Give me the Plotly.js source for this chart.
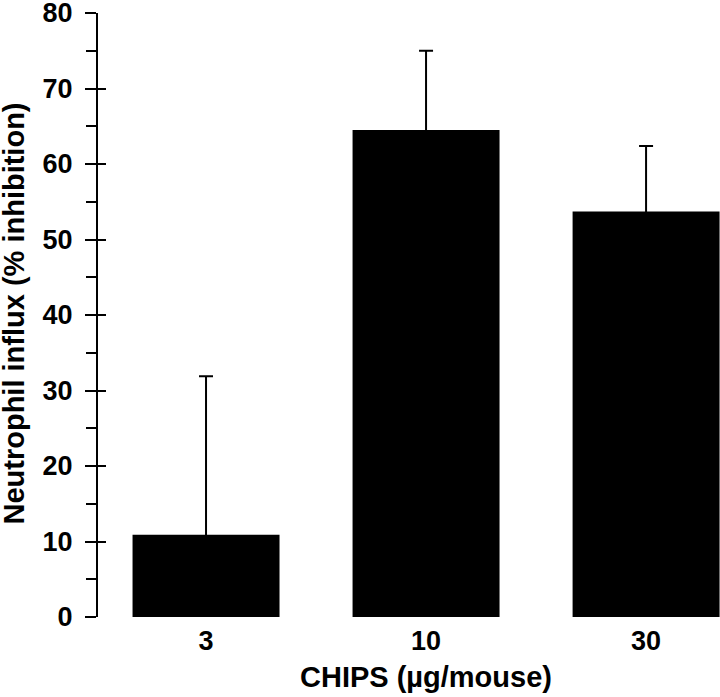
<!DOCTYPE html>
<html>
<head>
<meta charset="utf-8">
<script src="https://cdn.plot.ly/plotly-3.0.1.min.js"></script>
<style>html,body{margin:0;padding:0;background:#fff;}#chart{width:720px;height:697px;}</style>
</head>
<body>
<div id="chart"></div>
<script>
const categories = ["3", "10", "30"];
const inhibition = [10.9, 64.5, 53.7];
const errorUp = [21.0, 10.5, 8.7];
const yTickVals = [0, 10, 20, 30, 40, 50, 60, 70, 80];
const xTitle = "CHIPS (µg/mouse)";
const yTitle = "Neutrophil influx (% inhibition)";

const family = "'Liberation Sans', Arial, sans-serif";
const tickFont = {family: family, size: 27, color: "#000", weight: 700};
const titleFont = {family: family, size: 29, color: "#000", weight: 700};

// The lower arm is hidden inside the black bar so no cap shows on the bar top.
const hiddenLowerArm = errorUp.map(() => 1);

const data = [
  {
    type: "bar",
    x: categories,
    y: inhibition,
    width: 0.668,
    marker: {color: "#000", line: {width: 0}},
    error_y: {
      type: "data",
      symmetric: false,
      array: errorUp,
      arrayminus: hiddenLowerArm,
      color: "#000",
      thickness: 2,
      width: 7
    },
    hoverinfo: "skip"
  },
  {
    type: "scatter",
    mode: "markers",
    x: categories,
    y: inhibition,
    yaxis: "y2",
    marker: {opacity: 0},
    hoverinfo: "skip",
    showlegend: false
  }
];

const layout = {
  width: 720,
  height: 697,
  margin: {l: 98, r: 0, t: 13, b: 80},
  paper_bgcolor: "#fff",
  plot_bgcolor: "#fff",
  showlegend: false,
  font: tickFont,
  xaxis: {
    type: "category",
    range: [-0.491, 2.336],
    showline: false,
    ticks: "",
    showgrid: false,
    zeroline: false,
    tickfont: tickFont,
    ticklabelstandoff: 5
  },
  yaxis: {
    range: [0, 80],
    tickvals: yTickVals,
    showline: true,
    linecolor: "#000",
    linewidth: 2,
    ticks: "outside",
    ticklen: 11,
    tickwidth: 2,
    tickcolor: "#000",
    minor: {dtick: 5, ticks: "outside", ticklen: 10, tickwidth: 2, tickcolor: "#000", showgrid: false},
    showgrid: false,
    zeroline: false,
    tickfont: tickFont,
    ticklabelstandoff: 7,
    ticklabeloverflow: "allow"
  },
  yaxis2: {
    overlaying: "y",
    side: "left",
    range: [0, 80],
    tickvals: yTickVals,
    showline: false,
    ticks: "inside",
    ticklen: 8,
    tickwidth: 2,
    tickcolor: "#000",
    showticklabels: false,
    showgrid: false,
    zeroline: false
  },
  annotations: [
    {
      text: yTitle, xref: "paper", yref: "paper",
      x: -0.1345, y: 0.503, xanchor: "center", yanchor: "middle",
      textangle: -90, showarrow: false, font: titleFont
    },
    {
      text: xTitle, xref: "paper", yref: "paper",
      x: 0.527, y: -0.0993, xanchor: "center", yanchor: "middle",
      showarrow: false, font: titleFont
    }
  ]
};

Plotly.newPlot("chart", data, layout, {displayModeBar: false, staticPlot: true});
</script>
</body>
</html>
